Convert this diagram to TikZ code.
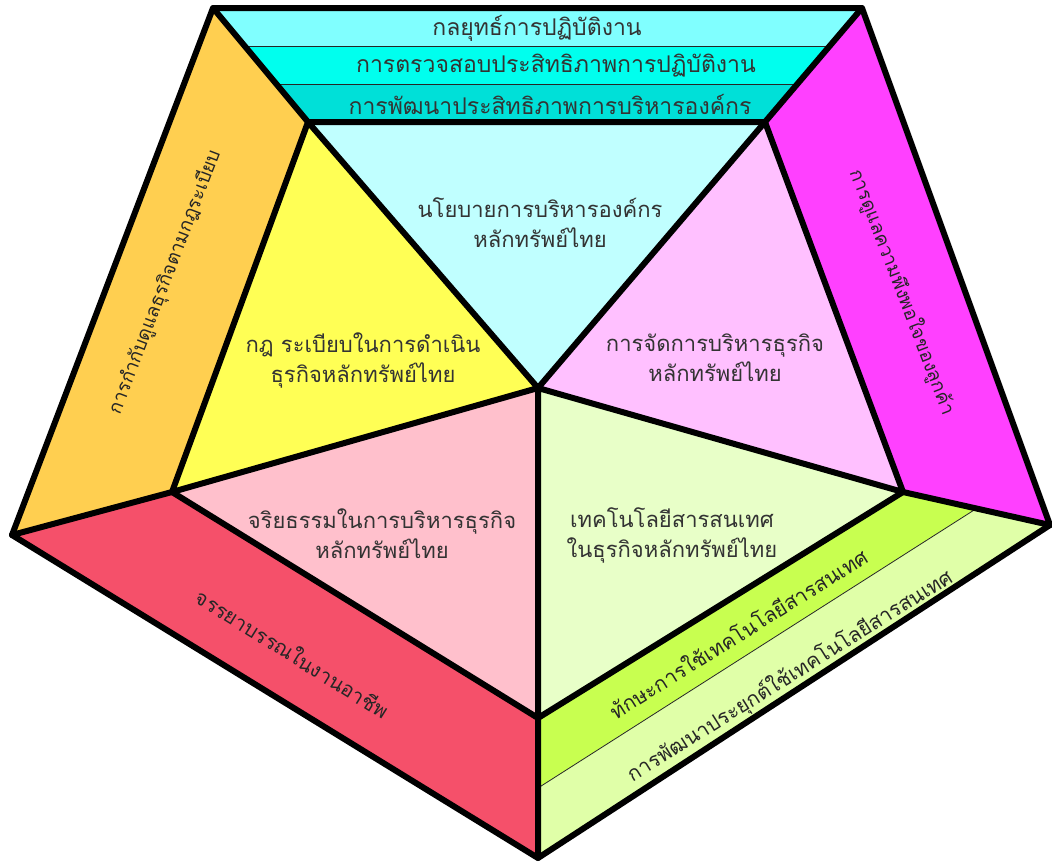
\documentclass[tikz,border=0pt]{standalone}
\usepackage{fontspec}
\usetikzlibrary{calc}
\newfontfamily\thaifont[Script=Thai]{Loma}
\definecolor{cyA}{HTML}{80FFFF}
\definecolor{cyB}{HTML}{00FFEE}
\definecolor{cyC}{HTML}{00E0D8}
\definecolor{cyT}{HTML}{C0FFFF}
\definecolor{orL}{HTML}{FFCF50}
\definecolor{yeT}{HTML}{FFFF55}
\definecolor{maR}{HTML}{FF40FF}
\definecolor{piR}{HTML}{FFC0FF}
\definecolor{reB}{HTML}{F5506A}
\definecolor{piB}{HTML}{FFC0CC}
\definecolor{grA}{HTML}{C8FF50}
\definecolor{grB}{HTML}{E0FFA8}
\definecolor{grT}{HTML}{E8FFC8}
\begin{document}
\begin{tikzpicture}[x=1pt,y=-1pt,
  edge/.style={line width=6pt, line join=round, line cap=round},
  thin/.style={line width=0.8pt, black!85},
  lbl/.style={font=\thaifont\fontsize{22}{30}\selectfont, align=center, text=black!80, inner sep=0pt},
  slbl/.style={font=\thaifont\fontsize{23}{30}\selectfont, align=center, text=black!80, inner sep=0pt},
  blbl/.style={font=\thaifont\fontsize{19}{30}\selectfont, align=center, text=black!85, inner sep=0pt},
  wlbl/.style={font=\thaifont\fontsize{20.5}{30}\selectfont, align=center, text=black!85, inner sep=0pt}]
\useasboundingbox (0,0) rectangle (1052,863);
% vertices
\coordinate (O1) at (213,8);
\coordinate (O2) at (862,8);
\coordinate (O3) at (1050,525);
\coordinate (O4) at (538,858);
\coordinate (O5) at (12,535);
\coordinate (I1) at (308,122);
\coordinate (I2) at (765,122);
\coordinate (I3) at (903,492);
\coordinate (I4) at (538,718);
\coordinate (I5) at (172,492);
\coordinate (C) at (538,388);
\coordinate (L1) at ($(O1)!1/3!(I1)$);
\coordinate (R1) at ($(O2)!1/3!(I2)$);
\coordinate (L2) at ($(O1)!2/3!(I1)$);
\coordinate (R2) at ($(O2)!2/3!(I2)$);
\coordinate (G1) at ($(I4)!0.5!(O4)$);
\coordinate (G2) at ($(I3)!0.5!(O3)$);
% fills
\fill[cyA] (O1) -- (O2) -- (R1) -- (L1) -- cycle;
\fill[cyB] (L1) -- (R1) -- (R2) -- (L2) -- cycle;
\fill[cyC] (L2) -- (R2) -- (I2) -- (I1) -- cycle;
\fill[orL] (O1) -- (I1) -- (I5) -- (O5) -- cycle;
\fill[maR] (O2) -- (O3) -- (I3) -- (I2) -- cycle;
\fill[reB] (O5) -- (I5) -- (I4) -- (O4) -- cycle;
\fill[grA] (I4) -- (I3) -- (G2) -- (G1) -- cycle;
\fill[grB] (G1) -- (G2) -- (O3) -- (O4) -- cycle;
\fill[cyT] (I1) -- (I2) -- (C) -- cycle;
\fill[yeT] (I1) -- (C) -- (I5) -- cycle;
\fill[piR] (I2) -- (I3) -- (C) -- cycle;
\fill[piB] (I5) -- (C) -- (I4) -- cycle;
\fill[grT] (C) -- (I3) -- (I4) -- cycle;
% thin dividers
\draw[thin] (L1) -- (R1);
\draw[thin] (L2) -- (R2);
\draw[thin] (G1) -- (G2);
% thick lines
\draw[edge] (O1) -- (O2) -- (O3) -- (O4) -- (O5) -- cycle;
\draw[edge] (I1) -- (I2) -- (I3) -- (I4) -- (I5) -- cycle;
\draw[edge] (O1) -- (I1) (O2) -- (I2) (O3) -- (I3) (O4) -- (I4) (O5) -- (I5);
\draw[edge] (C) -- (I1) (C) -- (I2) (C) -- (I3) (C) -- (I4) (C) -- (I5);
% texts
\node[slbl] (t1) at (537,28) {กลยุทธ์การปฏิบัติงาน};
\node[slbl] (t2) at (556,66) {การตรวจสอบประสิทธิภาพการปฏิบัติงาน};
\node[slbl] (t3) at (550,104) {การพัฒนาประสิทธิภาพการบริหารองค์กร};
\node[lbl] (c1) at (540,223) {นโยบายการบริหารองค์กร\\หลักทรัพย์ไทย};
\node[lbl] (c2) at (363,360) {กฎ ระเบียบในการดำเนิน\\ธุรกิจหลักทรัพย์ไทย};
\node[lbl] (c3) at (715,358) {การจัดการบริหารธุรกิจ\\หลักทรัพย์ไทย};
\node[lbl] (c4) at (382,534) {จริยธรรมในการบริหารธุรกิจ\\หลักทรัพย์ไทย};
\node[lbl] (c5) at (672,535) {เทคโนโลยีสารสนเทศ\\ในธุรกิจหลักทรัพย์ไทย};
\node[blbl, rotate=69] (b1) at (165,282) {การกำกับดูแลธุรกิจตามกฎระเบียบ};
\node[blbl, rotate=-69] (b2) at (902,292) {การดูแลความพึงพอใจของลูกค้า};
\node[wlbl, rotate=-32] (b3) at (293,653) {จรรยาบรรณในงานอาชีพ};
\node[wlbl, rotate=32] (b4) at (738,633) {ทักษะการใช้เทคโนโลยีสารสนเทศ};
\node[wlbl, rotate=32] (b5) at (790,676) {การพัฒนาประยุกต์ใช้เทคโนโลยีสารสนเทศ};
\end{tikzpicture}
\end{document}
